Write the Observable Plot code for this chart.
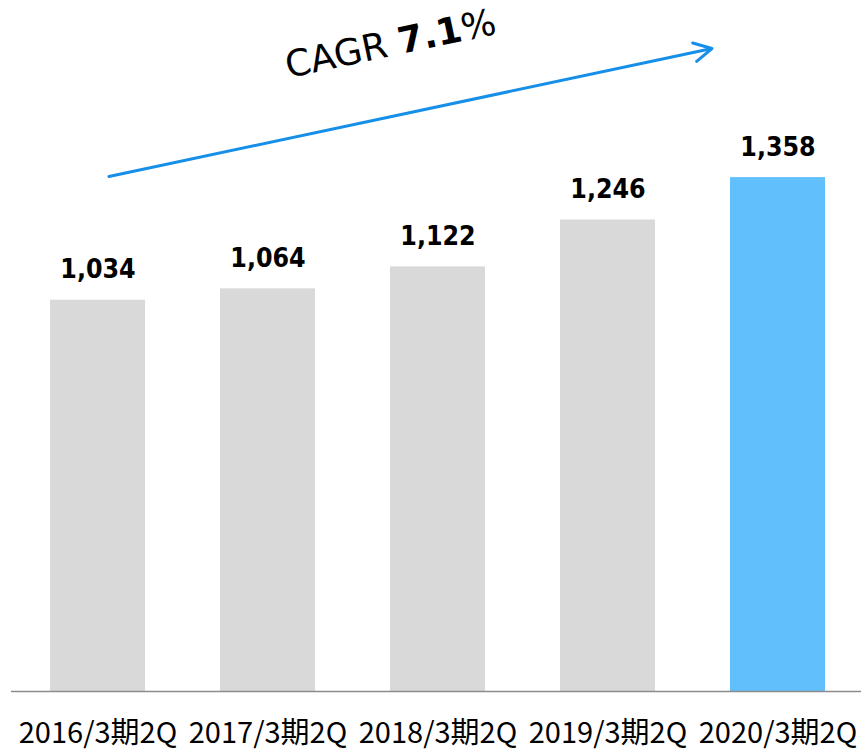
<!DOCTYPE html>
<html><head><meta charset="utf-8">
<script src="https://cdn.jsdelivr.net/npm/d3@7"></script>
<script src="https://cdn.jsdelivr.net/npm/@observablehq/plot@0.6"></script>
<style>body{margin:0;background:#fff} #chart{width:861px;height:751px}</style>
</head><body><div id="chart"></div>
<script>
const categories = ["2016/3期2Q", "2017/3期2Q", "2018/3期2Q", "2019/3期2Q", "2020/3期2Q"];
const values = [1034, 1064, 1122, 1246, 1358];
const barColors = ["#d9d9d9", "#d9d9d9", "#d9d9d9", "#d9d9d9", "#61bffb"];
const cagrParts = ["CAGR ", "7.1", "%"];
const arrowStart = {category: "2016/3期2Q", value: 1355};
const arrowEnd = {category: "2020/3期2Q", value: 1736};
const cagrAt = {category: "2018/3期2Q", value: 1680};

const data = categories.map((c, i) => ({category: c, value: values[i], color: barColors[i]}));
const latin = "'DejaVu Sans Condensed', 'DejaVu Sans', sans-serif";

const chart = Plot.plot({
  width: 861, height: 751,
  marginTop: 0, marginBottom: 60, marginLeft: 11, marginRight: 0,
  style: {background: "#fff"},
  x: {domain: categories, range: [10, 864], paddingInner: 0.4436, paddingOuter: 0.22},
  y: {domain: [0, 1826], axis: null},
  color: {type: "identity"},
  marks: [
    Plot.barY(data, {x: "category", y: "value", fill: "color"}),
    Plot.ruleY([0], {stroke: "#8c8c8c", strokeWidth: 1.5}),
    Plot.axisX({tickSize: 0, tickPadding: 31, label: null, fontSize: 29, fontFamily: "'Noto Sans CJK JP', sans-serif", fill: "#000"}),
    Plot.text(data, {x: "category", y: "value", text: d => d3.format(",")(d.value), lineAnchor: "bottom", dy: -22,
      fontSize: 26.5, fontWeight: "bold", fontFamily: latin, fill: "#000"}),
    Plot.arrow([{s: arrowStart, e: arrowEnd}], {
      x1: d => d.s.category, y1: d => d.s.value, x2: d => d.e.category, y2: d => d.e.value,
      stroke: "#168fe8", strokeWidth: 3, headLength: 10, headAngle: 56, insetStart: 11.2, insetEnd: 67.5
    }),
    Plot.text([cagrAt], {x: "category", y: "value", text: () => cagrParts.join(""), rotate: -12, dx: -45,
      textAnchor: "middle", lineAnchor: "bottom", fontSize: 36.5, fontFamily: "'DejaVu Sans', sans-serif", fill: "#000"})
  ]
});
document.getElementById("chart").appendChild(chart);

// style the CAGR label with a bold number
d3.select(chart).selectAll("text").each(function() {
  if (this.textContent === cagrParts.join("")) {
    const t = d3.select(this);
    t.text(null);
    cagrParts.forEach((p, i) => {
      t.append("tspan").attr("font-weight", i === 1 ? "bold" : null).text(p);
    });
    t.style("white-space", "pre");
  }
});
</script>
</body></html>
